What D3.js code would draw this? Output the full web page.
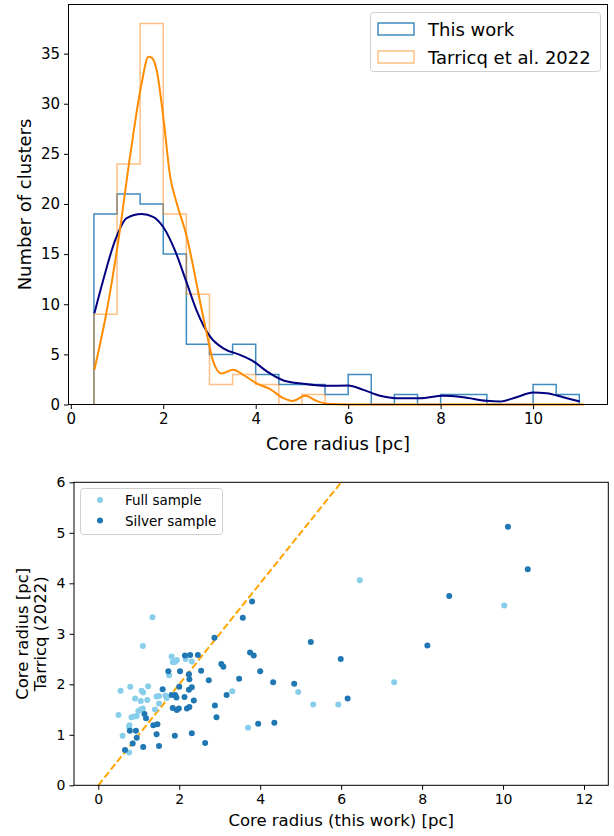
<!DOCTYPE html>
<html>
<head>
<meta charset="utf-8">
<script src="https://cdn.jsdelivr.net/npm/d3@7/dist/d3.min.js"></script>
<style>
  html, body { margin: 0; padding: 0; background: #fff; }
  svg { display: block; }
  text { font-family: "DejaVu Sans", sans-serif; fill: #000; }
</style>
</head>
<body>
<svg id="fig" width="614" height="836"></svg>
<script>
// ---- histogram data (bin width 0.5 pc, starting at 0.5 pc) ----
const binEdges = [0.5, 1.0, 1.5, 2.0, 2.5, 3.0, 3.5, 4.0, 4.5, 5.0, 5.5, 6.0, 6.5, 7.0, 7.5, 8.0, 8.5, 9.0, 9.5, 10.0, 10.5, 11.0];
const countsThisWork = [19, 21, 20, 15, 6, 5, 6, 3, 2, 2, 1, 3, 0, 1, 0, 1, 1, 0, 0, 2, 1];
const countsTarricq  = [9, 24, 38, 19, 11, 2, 3, 2, 0, 1, 0, 0, 0, 0, 0, 0, 0, 0, 0, 0, 0];

// smoothed density curves, scaled to counts: [radius, value]
const kdeThisWork = [
  [0.51, 9.1], [0.70, 12.4], [0.96, 16.4], [1.21, 18.6], [1.53, 19.0], [1.79, 18.7],
  [2.00, 17.7], [2.25, 15.4], [2.51, 12.1], [2.72, 9.4], [3.01, 6.8], [3.30, 5.6],
  [3.66, 4.95], [3.95, 4.3], [4.24, 3.3], [4.60, 2.4], [5.03, 2.06], [5.53, 1.86],
  [6.00, 1.9], [6.33, 1.46], [6.69, 0.87], [7.05, 0.63], [7.55, 0.63], [8.05, 0.87],
  [8.49, 0.73], [8.99, 0.37], [9.28, 0.3], [9.64, 0.73], [10.0, 1.2], [10.29, 1.13],
  [10.65, 0.73], [11.01, 0.3]
];
const kdeTarricq = [
  [0.51, 3.46], [0.78, 9.4], [1.03, 16.4], [1.28, 24.7], [1.53, 32.0], [1.68, 34.7],
  [1.75, 34.6], [1.86, 33.3], [2.00, 28.7], [2.15, 22.7], [2.29, 20.1], [2.51, 16.7],
  [2.65, 13.7], [2.79, 10.4], [2.94, 7.1], [3.08, 4.3], [3.26, 3.1], [3.51, 3.46],
  [3.73, 2.96], [4.02, 2.1], [4.31, 1.53], [4.60, 0.63], [4.80, 0.35], [5.07, 0.87],
  [5.30, 0.4], [5.55, 0.08], [6.0, 0.0], [7.0, 0.0], [8.0, 0.0], [9.0, 0.0], [10.0, 0.0], [11.1, 0.0]
];

// ---- comparison data: [core radius this work, core radius Tarricq 2022] ----
const fullSample = [
  [0.50, 1.39], [0.55, 1.87], [0.79, 1.95], [0.60, 0.98], [0.77, 1.19], [0.76, 1.15],
  [0.76, 0.65], [0.91, 1.72], [0.82, 1.35], [0.88, 1.36], [0.95, 1.37], [0.99, 1.47],
  [1.05, 1.67], [1.07, 1.87], [1.11, 1.84], [1.10, 1.52], [1.05, 1.50], [1.10, 2.76],
  [1.23, 1.96], [1.21, 1.69], [1.34, 3.33], [1.40, 1.50], [1.44, 1.76], [1.50, 1.77],
  [1.50, 1.62], [1.66, 1.78], [1.69, 1.73], [1.75, 2.18], [1.81, 2.55], [1.84, 2.44],
  [1.89, 2.44], [1.94, 2.48], [2.16, 2.50], [2.31, 2.45], [3.31, 1.86], [3.70, 1.14],
  [4.94, 1.85], [5.31, 1.60], [5.93, 1.60], [6.46, 4.06], [7.31, 2.04], [10.03, 3.56]
];
const silverSample = [
  [0.66, 0.70], [0.78, 1.08], [0.93, 1.08], [0.85, 0.83], [0.95, 0.94], [1.11, 0.76],
  [1.14, 1.41], [1.18, 1.33], [1.36, 1.19], [1.46, 1.21], [1.44, 1.01], [1.50, 0.78],
  [1.59, 1.90], [1.73, 2.26], [1.81, 1.79], [1.84, 1.53], [1.89, 0.98], [1.90, 1.79],
  [1.93, 1.74], [1.94, 1.49], [1.99, 1.52], [2.00, 1.95], [2.02, 2.26], [2.13, 1.75],
  [2.14, 2.57], [2.19, 1.52], [2.25, 1.55], [2.24, 1.89], [2.25, 2.10], [2.24, 2.20],
  [2.27, 2.58], [2.31, 1.94], [2.31, 1.03], [2.36, 1.68], [2.46, 2.58], [2.54, 2.27],
  [2.64, 0.84], [2.73, 2.08], [2.87, 2.92], [2.88, 1.58], [2.92, 1.35], [3.04, 2.40],
  [3.09, 2.35], [3.17, 1.79], [3.48, 2.11], [3.57, 3.32], [3.75, 2.63], [3.80, 3.64],
  [3.84, 2.57], [3.95, 1.22], [4.00, 2.26], [4.32, 2.04], [4.35, 1.24], [4.84, 2.01],
  [5.25, 2.84], [5.99, 2.50], [6.16, 1.72], [8.13, 2.77], [8.67, 3.75], [10.12, 5.12],
  [10.61, 4.28]
];
const oneToOne = [[0, 0], [12, 12]];

// tick labels
const histXTicks = [0, 2, 4, 6, 8, 10];
const histYTicks = [0, 5, 10, 15, 20, 25, 30, 35];
const scatXTicks = [0, 2, 4, 6, 8, 10, 12];
const scatYTicks = [0, 1, 2, 3, 4, 5, 6];

const svg = d3.select("#fig");

function styleAxis(g, fontSize) {
  g.select(".domain").remove();
  g.selectAll(".tick line").attr("stroke", "#000").attr("stroke-width", 1);
  g.selectAll(".tick text").style("font-family", "DejaVu Sans, sans-serif")
    .style("font-size", fontSize + "px").attr("fill", "#000");
}

function frame(g, x0, y0, x1, y1) {
  g.append("rect").attr("x", x0).attr("y", y0).attr("width", x1 - x0).attr("height", y1 - y0)
    .attr("fill", "none").attr("stroke", "#000").attr("stroke-width", 1);
}

// ================= top panel: histograms =================
{
  const L = 68.5, R = 607.5, T = 4.5, B = 404.5;
  const x = d3.scaleLinear().domain([-0.05, 11.61]).range([L, R]);
  const y = d3.scaleLinear().domain([0, 39.9]).range([B, T]);
  const g = svg.append("g");

  const clipId = "clipTop";
  svg.append("clipPath").attr("id", clipId).append("rect")
    .attr("x", L).attr("y", T).attr("width", R - L).attr("height", B - T + 3);

  function stepPoints(counts) {
    const pts = [[binEdges[0], 0]];
    counts.forEach((c, i) => { pts.push([binEdges[i], c]); pts.push([binEdges[i + 1], c]); });
    pts.push([binEdges[binEdges.length - 1], 0]);
    return pts;
  }
  const lineLin = d3.line().x(d => x(d[0])).y(d => y(d[1]));
  const plot = g.append("g").attr("clip-path", `url(#${clipId})`);

  plot.append("path").attr("d", lineLin(stepPoints(countsThisWork)))
    .attr("fill", "none").attr("stroke", "#1f77b4").attr("stroke-opacity", 0.85).attr("stroke-width", 1.5);
  plot.append("path").attr("d", lineLin(stepPoints(countsTarricq)))
    .attr("fill", "none").attr("stroke", "#ff7f0e").attr("stroke-opacity", 0.5).attr("stroke-width", 1.5);

  const ax = g.append("g").attr("transform", `translate(0,${B})`)
    .call(d3.axisBottom(x).tickValues(histXTicks).tickSize(4.5).tickPadding(4).tickFormat(d3.format("d")));
  styleAxis(ax, 15);
  const ay = g.append("g").attr("transform", `translate(${L},0)`)
    .call(d3.axisLeft(y).tickValues(histYTicks).tickSize(4.5).tickPadding(4).tickFormat(d3.format("d")));
  styleAxis(ay, 15);
  frame(g, L, T, R, B);

  const lineSmooth = d3.line().x(d => x(d[0])).y(d => y(d[1])).curve(d3.curveMonotoneX);
  plot.append("path").attr("d", lineSmooth(kdeThisWork))
    .attr("fill", "none").attr("stroke", "#000080").attr("stroke-width", 2);
  plot.append("path").attr("d", lineSmooth(kdeTarricq))
    .attr("fill", "none").attr("stroke", "#ff8c00").attr("stroke-width", 2);

  g.append("text").attr("x", (L + R) / 2).attr("y", 450).attr("text-anchor", "middle")
    .style("font-size", "18px").text("Core radius [pc]");
  g.append("text").attr("transform", `translate(31,${(T + B) / 2}) rotate(-90)`)
    .attr("text-anchor", "middle").style("font-size", "18px").text("Number of clusters");

  // legend
  const lg = g.append("g");
  lg.append("rect").attr("x", 370.5).attr("y", 12.5).attr("width", 230).attr("height", 59).attr("rx", 3)
    .attr("fill", "#fff").attr("fill-opacity", 0.8).attr("stroke", "#d0d0d0").attr("stroke-width", 1);
  const items = [
    { label: "This work", color: "#1f77b4", op: 0.85 },
    { label: "Tarricq et al. 2022", color: "#ff7f0e", op: 0.5 }
  ];
  items.forEach((it, i) => {
    const cy = 29 + i * 28;
    lg.append("rect").attr("x", 378).attr("y", cy - 6).attr("width", 36).attr("height", 12)
      .attr("fill", "none").attr("stroke", it.color).attr("stroke-opacity", it.op).attr("stroke-width", 1.5);
    lg.append("text").attr("x", 428).attr("y", cy + 6.5).style("font-size", "18px").text(it.label);
  });
}

// ================= bottom panel: comparison =================
{
  const L = 74, R = 608.3, T = 482.3, B = 785.3;
  const x = d3.scaleLinear().domain([-0.6, 12.6]).range([L, R]);
  const y = d3.scaleLinear().domain([0, 6]).range([B, T]);
  const g = svg.append("g");

  const clipId = "clipBottom";
  svg.append("clipPath").attr("id", clipId).append("rect")
    .attr("x", L).attr("y", T).attr("width", R - L).attr("height", B - T);
  const plot = g.append("g").attr("clip-path", `url(#${clipId})`);

  plot.append("path").attr("d", d3.line().x(d => x(d[0])).y(d => y(d[1]))(oneToOne))
    .attr("fill", "none").attr("stroke", "#ffa500").attr("stroke-width", 2).attr("stroke-dasharray", "7,3");

  plot.selectAll("circle.full").data(fullSample).join("circle").attr("class", "full")
    .attr("cx", d => x(d[0])).attr("cy", d => y(d[1])).attr("r", 3).attr("fill", "#87ceeb");
  plot.selectAll("circle.silver").data(silverSample).join("circle").attr("class", "silver")
    .attr("cx", d => x(d[0])).attr("cy", d => y(d[1])).attr("r", 3).attr("fill", "#1f77b4");

  const ax = g.append("g").attr("transform", `translate(0,${B})`)
    .call(d3.axisBottom(x).tickValues(scatXTicks).tickSize(4.5).tickPadding(4).tickFormat(d3.format("d")));
  styleAxis(ax, 14);
  const ay = g.append("g").attr("transform", `translate(${L},0)`)
    .call(d3.axisLeft(y).tickValues(scatYTicks).tickSize(4.5).tickPadding(4).tickFormat(d3.format("d")));
  styleAxis(ay, 14);
  frame(g, L, T, R, B);

  g.append("text").attr("x", (L + R) / 2).attr("y", 826).attr("text-anchor", "middle")
    .style("font-size", "16.5px").text("Core radius (this work) [pc]");
  const yl = g.append("text").attr("transform", `translate(0,${(T + B) / 2}) rotate(-90)`)
    .attr("text-anchor", "middle").style("font-size", "16.5px");
  yl.append("tspan").attr("x", 0).attr("y", 28).text("Core radius [pc]");
  yl.append("tspan").attr("x", 0).attr("y", 46).text("Tarricq (2022)");

  // legend
  const lg = g.append("g");
  lg.append("rect").attr("x", 80.5).attr("y", 488.5).attr("width", 142).attr("height", 46).attr("rx", 3)
    .attr("fill", "#fff").attr("fill-opacity", 0.8).attr("stroke", "#d0d0d0").attr("stroke-width", 1);
  const items = [
    { label: "Full sample", color: "#87ceeb" },
    { label: "Silver sample", color: "#1f77b4" }
  ];
  items.forEach((it, i) => {
    const cy = 500 + i * 20.5;
    lg.append("circle").attr("cx", 100).attr("cy", cy).attr("r", 3).attr("fill", it.color);
    lg.append("text").attr("x", 125).attr("y", cy + 5).style("font-size", "13.5px").text(it.label);
  });
}
</script>
</body>
</html>
